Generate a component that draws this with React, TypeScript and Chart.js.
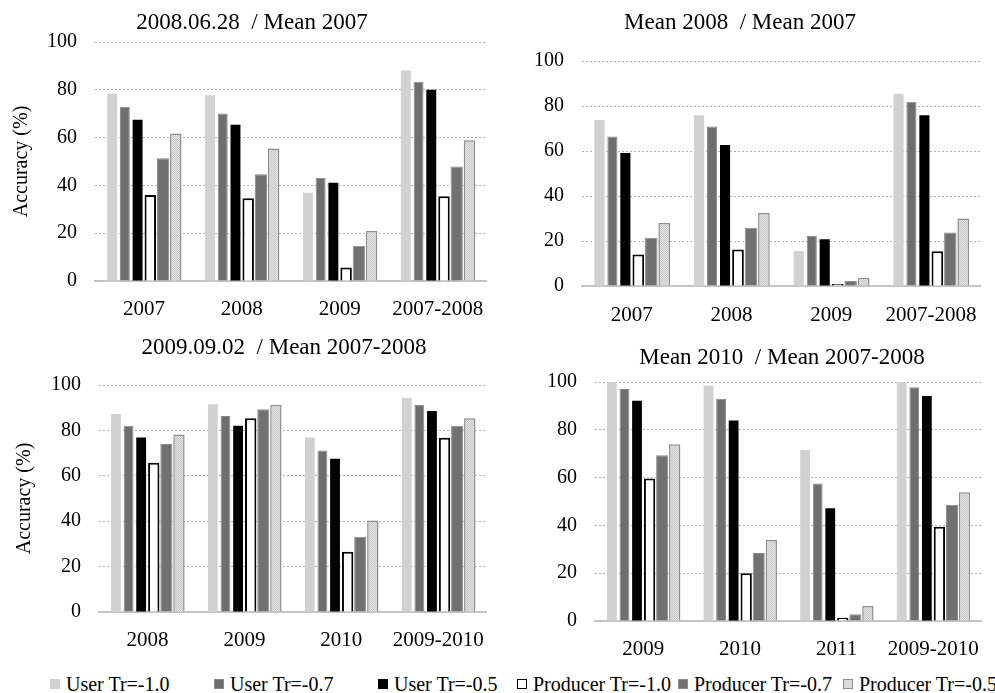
import React, { useEffect, useRef } from 'react';
import { Chart, registerables } from 'chart.js';

Chart.register(...registerables);

const FONT = '"Liberation Serif", "Times New Roman", Times, serif';

// ---------- data ----------
const seriesLabels = [
  'User Tr=-1.0',
  'User Tr=-0.7',
  'User Tr=-0.5',
  'Producer Tr=-1.0',
  'Producer Tr=-0.7',
  'Producer Tr=-0.5',
];

const yTicks = [0, 20, 40, 60, 80, 100];

// Panel A: 2008.06.28 / Mean 2007
const titleA = '2008.06.28  / Mean 2007';
const catsA = ['2007', '2008', '2009', '2007-2008'];
const aUser10 = [78.4, 77.7, 36.9, 88.1];
const aUser07 = [72.9, 70.1, 43.2, 83.4];
const aUser05 = [67.5, 65.4, 41.1, 80.0];
const aProd10 = [36.0, 34.6, 5.7, 35.5];
const aProd07 = [51.4, 44.7, 14.8, 47.9];
const aProd05 = [61.7, 55.4, 20.9, 58.9];

// Panel B: Mean 2008 / Mean 2007
const titleB = 'Mean 2008  / Mean 2007';
const catsB = ['2007', '2008', '2009', '2007-2008'];
const bUser10 = [73.8, 75.9, 15.6, 85.4];
const bUser07 = [66.4, 70.9, 22.3, 81.9];
const bUser05 = [59.1, 62.7, 20.8, 75.9];
const bProd10 = [14.0, 16.2, 0.9, 15.5];
const bProd07 = [21.5, 25.9, 2.2, 23.8];
const bProd05 = [28.0, 32.4, 3.7, 30.0];

// Panel C: 2009.09.02 / Mean 2007-2008
const titleC = '2009.09.02  / Mean 2007-2008';
const catsC = ['2008', '2009', '2010', '2009-2010'];
const cUser10 = [87.2, 91.5, 76.9, 94.3];
const cUser07 = [82.1, 86.3, 71.2, 91.3];
const cUser05 = [76.9, 82.1, 67.5, 88.5];
const cProd10 = [65.7, 85.4, 26.5, 76.8];
const cProd07 = [74.0, 89.3, 33.1, 82.1];
const cProd05 = [78.2, 91.3, 40.3, 85.4];

// Panel D: Mean 2010 / Mean 2007-2008
const titleD = 'Mean 2010  / Mean 2007-2008';
const catsD = ['2009', '2010', '2011', '2009-2010'];
const dUser10 = [99.9, 98.5, 71.5, 99.9];
const dUser07 = [97.1, 93.0, 57.5, 97.8];
const dUser05 = [92.2, 83.9, 47.2, 94.1];
const dProd10 = [59.6, 20.0, 1.4, 39.4];
const dProd07 = [69.3, 28.5, 2.8, 48.6];
const dProd05 = [74.0, 33.9, 6.3, 53.9];

// ---------- layout (pixels) ----------
type PanelCfg = {
  left: number; top: number; width: number; height: number;
  plotLeft: number; plotRight: number; plotTop: number; plotBottom: number;
  title: string; titleX: number; titleY: number;
  yTitle: boolean; yTitlePad: number; xTickPad: number;
  categories: string[]; values: number[][];
};

const panels: PanelCfg[] = [
  {
    left: 0, top: 0, width: 500, height: 330,
    plotLeft: 95, plotRight: 493, plotTop: 42, plotBottom: 281,
    title: titleA, titleX: 252, titleY: 23,
    yTitle: true, yTitlePad: 10, xTickPad: 16,
    categories: catsA, values: [aUser10, aUser07, aUser05, aProd10, aProd07, aProd05],
  },
  {
    left: 500, top: 0, width: 495, height: 330,
    plotLeft: 582, plotRight: 982, plotTop: 61, plotBottom: 286,
    title: titleB, titleX: 740, titleY: 23,
    yTitle: false, yTitlePad: 0, xTickPad: 17,
    categories: catsB, values: [bUser10, bUser07, bUser05, bProd10, bProd07, bProd05],
  },
  {
    left: 0, top: 330, width: 500, height: 330,
    plotLeft: 99, plotRight: 498, plotTop: 385, plotBottom: 612,
    title: titleC, titleX: 284, titleY: 348,
    yTitle: true, yTitlePad: 13, xTickPad: 16,
    categories: catsC, values: [cUser10, cUser07, cUser05, cProd10, cProd07, cProd05],
  },
  {
    left: 500, top: 330, width: 495, height: 330,
    plotLeft: 595, plotRight: 992, plotTop: 382, plotBottom: 621,
    title: titleD, titleX: 782, titleY: 358,
    yTitle: false, yTitlePad: 0, xTickPad: 16,
    categories: catsD, values: [dUser10, dUser07, dUser05, dProd10, dProd07, dProd05],
  },
];

const legendLefts = [50, 214, 378, 517, 678, 843];

const panelTitlePlugin = {
  id: 'panelTitle',
  afterDraw(chart: any, _args: any, opts: any) {
    if (!opts || !opts.text) return;
    const ctx = chart.ctx;
    ctx.save();
    ctx.font = `${opts.size}px ${FONT}`;
    ctx.fillStyle = '#000';
    ctx.textAlign = 'center';
    ctx.textBaseline = 'middle';
    ctx.fillText(opts.text, opts.x, opts.y);
    ctx.restore();
  },
};

function makePattern(ctx: CanvasRenderingContext2D): CanvasPattern | string {
  const pc = document.createElement('canvas');
  pc.width = 2;
  pc.height = 2;
  const g = pc.getContext('2d');
  if (!g) return '#d8d8d8';
  g.fillStyle = '#e6e6e6';
  g.fillRect(0, 0, 2, 2);
  g.fillStyle = '#c6c6c6';
  g.fillRect(0, 0, 1, 1);
  g.fillRect(1, 1, 1, 1);
  return ctx.createPattern(pc, 'repeat') || '#d8d8d8';
}

function Panel({ cfg }: { cfg: PanelCfg }) {
  const ref = useRef<HTMLCanvasElement | null>(null);
  useEffect(() => {
    const canvas = ref.current;
    if (!canvas) return;
    const ctx = canvas.getContext('2d') as CanvasRenderingContext2D;
    const pattern = makePattern(ctx);
    const styles = [
      { backgroundColor: '#d1d1d1', borderColor: '#d1d1d1', borderWidth: 0, barPercentage: 0.78 },
      { backgroundColor: '#6e6e6e', borderColor: '#868686', borderWidth: 1, barPercentage: 0.78 },
      { backgroundColor: '#000000', borderColor: '#000000', borderWidth: 0, barPercentage: 0.78 },
      { backgroundColor: '#ffffff', borderColor: '#000000', borderWidth: 2, barPercentage: 0.9 },
      { backgroundColor: '#717171', borderColor: '#8a8a8a', borderWidth: 1, barPercentage: 0.96 },
      { backgroundColor: pattern, borderColor: '#8c8c8c', borderWidth: 1.5, barPercentage: 0.9 },
    ];
    const datasets = seriesLabels.map((label, i) => ({
      label,
      data: cfg.values[i],
      ...styles[i],
      categoryPercentage: 0.78,
      borderSkipped: 'bottom' as const,
    }));
    const chart = new Chart(canvas, {
      type: 'bar',
      data: { labels: cfg.categories, datasets },
      plugins: [panelTitlePlugin],
      options: {
        responsive: false,
        animation: false,
        devicePixelRatio: 1,
        layout: {
          padding: {
            left: 0,
            top: cfg.plotTop - cfg.top,
            right: cfg.left + cfg.width - cfg.plotRight,
            bottom: 0,
          },
        },
        plugins: {
          legend: { display: false },
          tooltip: { enabled: false },
          panelTitle: { text: cfg.title, x: cfg.titleX - cfg.left, y: cfg.titleY - cfg.top, size: 23 },
        } as any,
        scales: {
          x: {
            grid: { display: false, drawTicks: false },
            border: { display: true, color: '#c4c4c4', width: 2 },
            ticks: {
              font: { family: FONT, size: 21 },
              color: '#000',
              padding: cfg.xTickPad,
              maxRotation: 0,
              autoSkip: false,
            },
            afterFit: (s: any) => { s.height = cfg.top + cfg.height - cfg.plotBottom; },
          },
          y: {
            min: 0,
            max: 100,
            afterBuildTicks: (s: any) => { s.ticks = yTicks.map((v) => ({ value: v })); },
            ticks: {
              font: { family: FONT, size: 20 },
              color: '#000',
              padding: 18,
            },
            grid: {
              drawTicks: false,
              lineWidth: 1,
              color: (c: any) => (c.tick && c.tick.value === 0 ? 'rgba(0,0,0,0)' : '#b2b2b2'),
            },
            border: { display: false, dash: [2, 2] },
            title: {
              display: cfg.yTitle,
              text: 'Accuracy (%)',
              font: { family: FONT, size: 20 },
              color: '#000',
              padding: { top: cfg.yTitlePad, bottom: 0 },
            },
            afterFit: (s: any) => { s.width = cfg.plotLeft - cfg.left; },
          },
        },
      },
    });
    return () => chart.destroy();
  }, [cfg]);
  return (
    <canvas
      ref={ref}
      width={cfg.width}
      height={cfg.height}
      style={{ position: 'absolute', left: cfg.left, top: cfg.top, width: cfg.width, height: cfg.height }}
    />
  );
}

const legendSwatches = [
  { background: '#d1d1d1', border: '1px solid #d1d1d1' },
  { background: '#6e6e6e', border: '1px solid #868686' },
  { background: '#000000', border: '1px solid #000' },
  { background: '#ffffff', border: '1.5px solid #000' },
  { background: '#717171', border: '1px solid #8a8a8a' },
  { background: '#dcdcdc', border: '1.5px solid #8c8c8c' },
];

export default function App() {
  return (
    <div
      style={{
        position: 'fixed', left: 0, top: 0, width: 995, height: 693,
        background: '#fff', overflow: 'hidden',
      }}
    >
      {panels.map((p, i) => <Panel key={i} cfg={p} />)}
      {seriesLabels.map((label, i) => (
        <div
          key={label}
          style={{
            position: 'absolute', left: legendLefts[i], top: 673, height: 22,
            display: 'flex', alignItems: 'center', whiteSpace: 'nowrap',
            fontFamily: FONT, fontSize: 20, lineHeight: '22px', color: '#000',
          }}
        >
          <span
            style={{
              display: 'inline-block', width: 10, height: 10, boxSizing: 'border-box',
              marginRight: 6, ...legendSwatches[i],
            }}
          />
          <span>{label}</span>
        </div>
      ))}
    </div>
  );
}
